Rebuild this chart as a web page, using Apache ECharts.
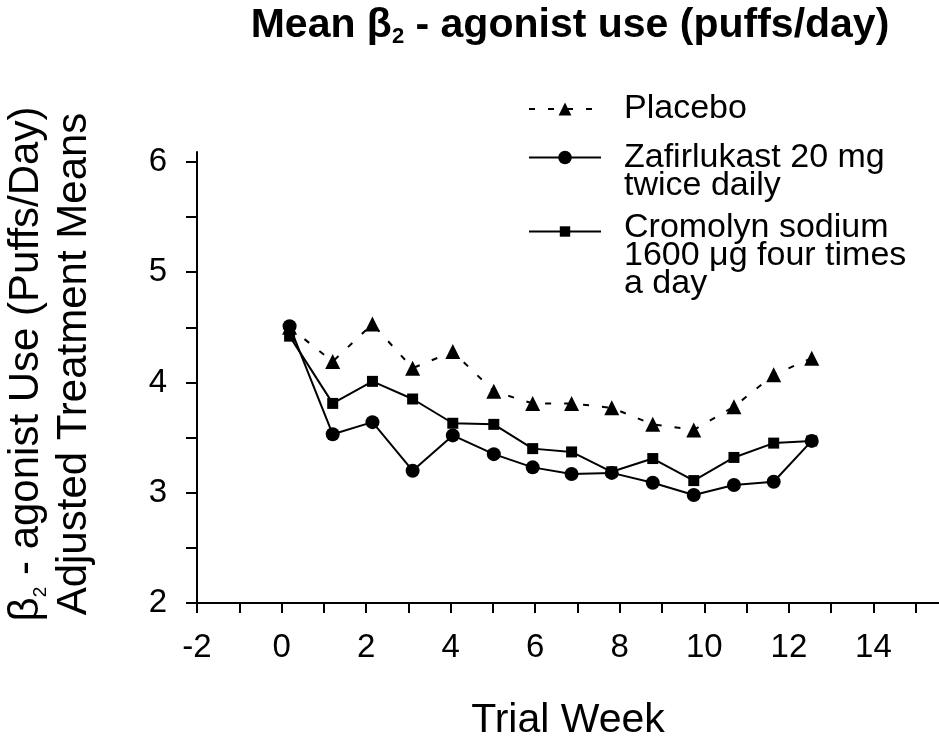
<!DOCTYPE html>
<html>
<head>
<meta charset="utf-8">
<title>Mean β2 - agonist use</title>
<script src="https://cdn.jsdelivr.net/npm/echarts@6/dist/echarts.min.js"></script>
<style>
  html, body { margin: 0; padding: 0; background: #fff; }
  #main { width: 939px; height: 738px; }
</style>
</head>
<body>
<div id="main"></div>
<script>
// trial week as plotted, and adjusted treatment means (puffs/day)
var weeks = [0.19, 1.21, 2.15, 3.10, 4.05, 5.02, 5.94, 6.86, 7.81, 8.78, 9.75, 10.70, 11.64, 12.54];
var placebo = [4.50, 4.19, 4.53, 4.13, 4.28, 3.92, 3.81, 3.81, 3.77, 3.62, 3.57, 3.78, 4.07, 4.22];
var zafirlukast = [4.51, 3.53, 3.64, 3.20, 3.52, 3.35, 3.23, 3.17, 3.18, 3.09, 2.98, 3.07, 3.10, 3.47];
var cromolyn = [4.42, 3.81, 4.01, 3.85, 3.63, 3.62, 3.40, 3.37, 3.19, 3.31, 3.11, 3.32, 3.45, 3.47];

var xTicks = [-2, -1, 0, 1, 2, 3, 4, 5, 6, 7, 8, 9, 10, 11, 12, 13, 14, 15];
var xLabels = [-2, 0, 2, 4, 6, 8, 10, 12, 14];
var yTicks = [2, 2.5, 3, 3.5, 4, 4.5, 5, 5.5, 6];
var yLabels = [2, 3, 4, 5, 6];

var names = ['Placebo', 'Zafirlukast 20 mg\ntwice daily', 'Cromolyn sodium\n1600 μg four times\na day'];

var font = "'Liberation Sans', Arial, Helvetica, sans-serif";

function makeSeries(name, values, symbol, size, dashed) {
  return {
    name: name,
    type: 'line',
    data: weeks.map(function (w, i) { return [w, values[i]]; }),
    symbol: symbol,
    symbolSize: size,
    itemStyle: { color: '#000' },
    lineStyle: { color: '#000', width: 2, type: dashed ? [6, 13] : 'solid' },
    emphasis: { disabled: true },
    animation: false
  };
}

// legend text is centred on its icon, so a blank spacer line above pushes
// the first text line down level with the icon
function legendAt(name, top, itemHeight, spacer) {
  return {
    data: [name],
    left: 528,
    top: top,
    padding: 0,
    orient: 'vertical',
    itemWidth: 72,
    itemHeight: itemHeight,
    selectedMode: false,
    formatter: function (n) {
      var lines = n.split('\n').map(function (t) { return '{a|' + t + '}'; });
      if (spacer) lines.unshift('{sp| }');
      return lines.join('\n');
    },
    textStyle: {
      padding: [0, 0, 0, 18],
      rich: {
        a: { fontFamily: font, fontSize: 34, lineHeight: 28, color: '#000' },
        sp: { fontSize: 1, lineHeight: spacer || 1 }
      }
    }
  };
}

var myChart = echarts.init(document.getElementById('main'));
var option = {
  backgroundColor: '#fff',
  title: {
    text: '{b|Mean β}{s|2}{b| - agonist use (puffs/day)}',
    left: 570,
    top: 4,
    padding: 0,
    textAlign: 'center',
    textStyle: {
      rich: {
        b: { fontFamily: font, fontSize: 41, fontWeight: 'bold', lineHeight: 44, color: '#000' },
        s: { fontFamily: font, fontSize: 22, fontWeight: 'bold', lineHeight: 29, verticalAlign: 'bottom', color: '#000' }
      }
    }
  },
  legend: [
    legendAt(names[0], 92, 16, 0),
    legendAt(names[1], 129, 17, 28),
    legendAt(names[2], 189, 13, 48)
  ],
  grid: { left: 197, right: 0, top: 152, bottom: 135, containLabel: false, outerBoundsMode: 'none' },
  xAxis: {
    type: 'value',
    min: -2,
    max: 15.55,
    name: 'Trial Week',
    nameLocation: 'middle',
    nameGap: 97,
    nameTextStyle: { fontFamily: font, fontSize: 41, color: '#000' },
    axisLine: { onZero: false, lineStyle: { color: '#000', width: 2 } },
    axisTick: { customValues: xTicks, length: 10, lineStyle: { color: '#000', width: 2 } },
    axisLabel: { customValues: xLabels, margin: 28, fontFamily: font, fontSize: 33, color: '#000' },
    splitLine: { show: false }
  },
  yAxis: {
    type: 'value',
    min: 2,
    max: 6.09,
    name: '{g|β}{s|2}{g| - agonist Use (Puffs/Day)}\n{g|Adjusted Treatment Means}',
    nameLocation: 'middle',
    nameRotate: 90,
    nameGap: 99,
    nameTextStyle: {
      color: '#000',
      fontFamily: font,
      fontSize: 42,
      lineHeight: 48,
      padding: [0, 0, 0, 27],
      rich: {
        g: { fontFamily: font, fontSize: 42, lineHeight: 48, color: '#000' },
        s: { fontFamily: font, fontSize: 19, lineHeight: 26, verticalAlign: 'bottom', color: '#000' }
      }
    },
    axisLine: { onZero: false, lineStyle: { color: '#000', width: 2 } },
    axisTick: { customValues: yTicks, length: 11, lineStyle: { color: '#000', width: 2 } },
    axisLabel: { customValues: yLabels, margin: 30, fontFamily: font, fontSize: 33, color: '#000' },
    splitLine: { show: false }
  },
  series: [
    makeSeries(names[0], placebo, 'triangle', 15, true),
    makeSeries(names[2], cromolyn, 'rect', 11, false),
    makeSeries(names[1], zafirlukast, 'circle', 14, false)
  ]
};
myChart.setOption(option);
</script>
</body>
</html>
